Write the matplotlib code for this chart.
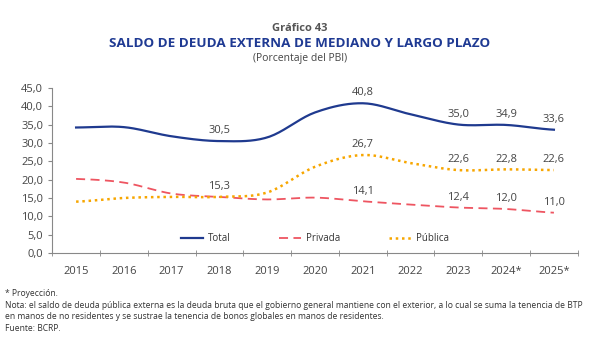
import numpy as np
import matplotlib
matplotlib.use("Agg")
import matplotlib.pyplot as plt

years = ["2015", "2016", "2017", "2018", "2019", "2020", "2021", "2022", "2023", "2024*", "2025*"]
total = [34.2, 34.3, 31.8, 30.5, 31.5, 38.3, 40.8, 37.8, 35.0, 34.9, 33.6]
privada = [20.2, 19.2, 16.2, 15.3, 14.6, 15.1, 14.1, 13.2, 12.4, 12.0, 11.0]
publica = [14.0, 15.0, 15.3, 15.3, 16.5, 23.5, 26.7, 24.5, 22.6, 22.8, 22.6]

total_labels = {3: "30,5", 6: "40,8", 8: "35,0", 9: "34,9", 10: "33,6"}
privada_labels = {3: "15,3", 6: "14,1", 8: "12,4", 9: "12,0", 10: "11,0"}
publica_labels = {6: "26,7", 8: "22,6", 9: "22,8", 10: "22,6"}

plt.rcParams['font.family'] = ['Open Sans', 'DejaVu Sans']

def smooth(x, y, n=20):
    x = np.asarray(x, float); y = np.asarray(y, float)
    px = np.concatenate([[2*x[0]-x[1]], x, [2*x[-1]-x[-2]]])
    py = np.concatenate([[y[0]], y, [y[-1]]])
    xs, ys = [], []
    for i in range(1, len(px)-2):
        t = np.linspace(0, 1, n, endpoint=False)
        for arr, out in ((px, xs), (py, ys)):
            p0, p1, p2, p3 = arr[i-1], arr[i], arr[i+1], arr[i+2]
            out.extend(0.5*((2*p1) + (-p0+p2)*t + (2*p0-5*p1+4*p2-p3)*t**2 + (-p0+3*p1-3*p2+p3)*t**3))
    xs.append(x[-1]); ys.append(y[-1])
    return np.array(xs), np.array(ys)

fig = plt.figure(figsize=(6, 3.5), dpi=100)
ax = fig.add_axes([0.087, 0.277, 0.876, 0.472])
x = np.arange(len(years))

c_tot, c_pri, c_pub = "#1F3A8F", "#EE5561", "#F7A600"
sx, sy = smooth(x, total)
ax.plot(sx, sy, color=c_tot, lw=1.6, label="Total")
sx, sy = smooth(x, privada)
ax.plot(sx, sy, color=c_pri, lw=1.3, ls=(0, (5, 3)), label="Privada")
sx, sy = smooth(x, publica)
ax.plot(sx, sy, color=c_pub, lw=1.8, ls=(0, (1, 1.5)), label="Pública")

lab_kw = dict(ha="center", va="bottom", fontsize=8, color="#444444")
for series, labels in ((total, total_labels), (privada, privada_labels), (publica, publica_labels)):
    for i, t in labels.items():
        ax.text(i, series[i] + 1.3, t, **lab_kw)

ax.set_xlim(-0.5, len(years) - 0.5)
ax.set_ylim(0, 45)
ax.set_yticks(np.arange(0, 46, 5))
ax.set_yticklabels([f"{v:.1f}".replace(".", ",") for v in np.arange(0, 46, 5)])
ax.set_xticks(x)
ax.set_xticklabels(years)
ax.set_xticks(np.arange(-0.5, len(years), 1), minor=True)
ax.tick_params(axis="x", which="major", length=0, pad=9, labelsize=8, colors="#444444")
ax.tick_params(axis="x", which="minor", length=4, color="#888888", direction="inout")
ax.tick_params(axis="y", length=3, color="#888888", labelsize=8, colors="#444444")
for s in ("top", "right"):
    ax.spines[s].set_visible(False)
for s in ("left", "bottom"):
    ax.spines[s].set_color("#888888")
    ax.spines[s].set_linewidth(0.8)

ax.legend(loc="lower center", bbox_to_anchor=(0.5, 0.0), ncol=3, frameon=False, fontsize=7,
          handlelength=2.3, handletextpad=0.5, columnspacing=5.0, labelcolor="#333333")

fig.text(0.5, 0.912, "Gráfico 43", ha="center", fontsize=8, fontweight="bold", color="#555555")
fig.text(0.5, 0.866, "SALDO DE DEUDA EXTERNA DE MEDIANO Y LARGO PLAZO", ha="center", fontsize=9.7,
         fontweight="bold", color="#1F3A93")
fig.text(0.5, 0.826, "(Porcentaje del PBI)", ha="center", fontsize=7.5, color="#444444")

foot = ("* Proyección.\n"
        "Nota: el saldo de deuda pública externa es la deuda bruta que el gobierno general mantiene con el exterior, a lo cual se suma la tenencia de BTP\n"
        "en manos de no residentes y se sustrae la tenencia de bonos globales en manos de residentes.\n"
        "Fuente: BCRP.")
fig.text(0.008, 0.175, foot, ha="left", va="top", fontsize=6.15, color="#333333", linespacing=1.4)

fig.savefig("out.png", dpi=100)
